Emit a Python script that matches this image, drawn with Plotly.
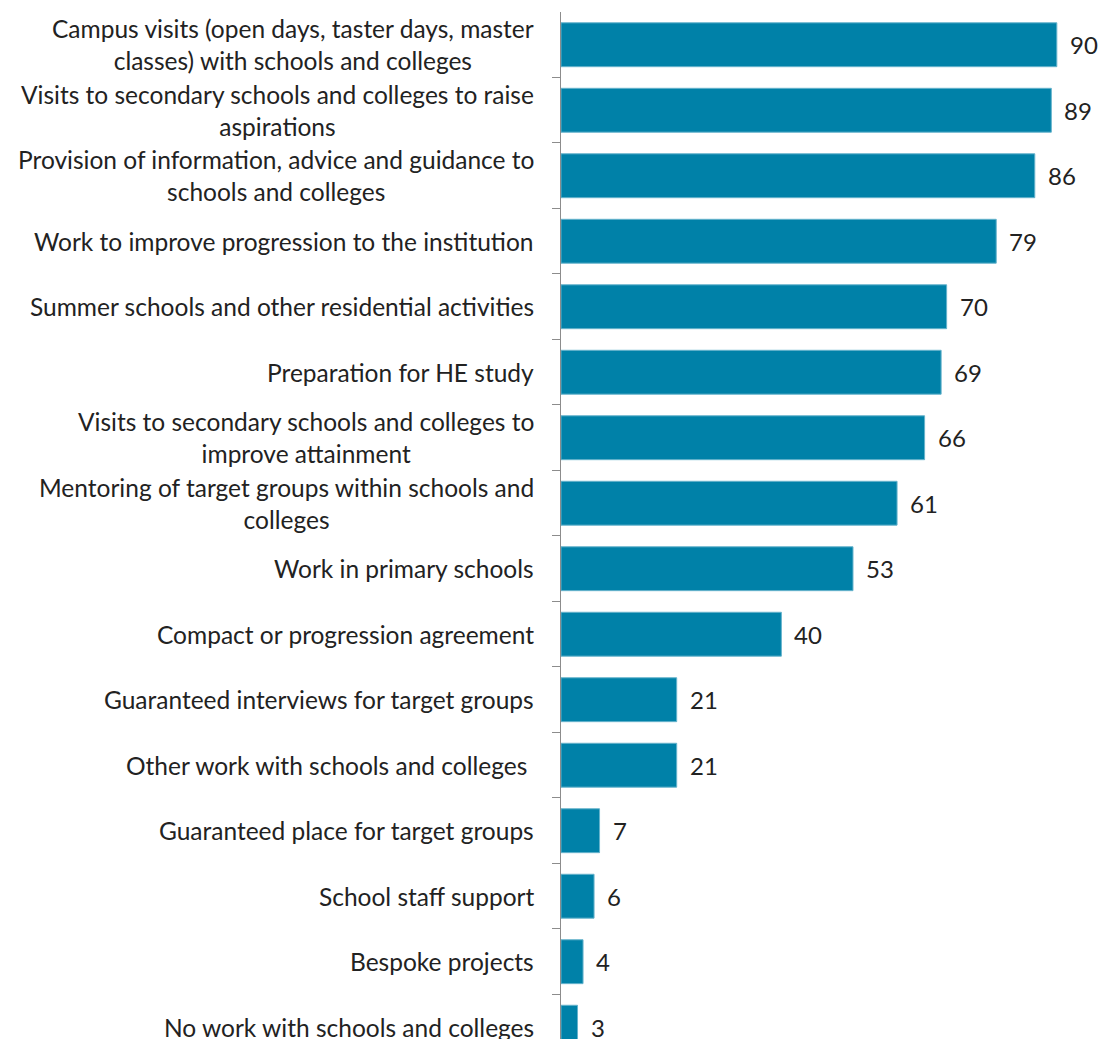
import plotly.graph_objects as go

categories = [
    "Campus visits (open days, taster days, master<br>classes) with schools and colleges",
    "Visits to secondary schools and colleges to raise<br>aspirations",
    "Provision of information, advice and guidance to<br>schools and colleges",
    "Work to improve progression to the institution",
    "Summer schools and other residential activities",
    "Preparation for HE study",
    "Visits to secondary schools and colleges to<br>improve attainment",
    "Mentoring of target groups within schools and<br>colleges",
    "Work in primary schools",
    "Compact or progression agreement",
    "Guaranteed interviews for target groups",
    "Other work with schools and colleges\u00a0",
    "Guaranteed place for target groups",
    "School staff support",
    "Bespoke projects",
    "No work with schools and colleges",
]
values = [90, 89, 86, 79, 70, 69, 66, 61, 53, 40, 21, 21, 7, 6, 4, 3]

FONT = "Lato"
TEXT_COLOR = "#222222"

fig = go.Figure(
    go.Bar(
        x=values,
        y=list(range(len(categories))),
        orientation="h",
        width=0.67,
        marker=dict(color="#0081A8", line=dict(color="#66B3CC", width=1)),
        hoverinfo="x",
    )
)

for i, (c, v) in enumerate(zip(categories, values)):
    fig.add_annotation(
        x=0, xref="x domain", y=i, yref="y",
        text=c, showarrow=False, xanchor="right", yanchor="middle",
        align="center", xshift=-25,
        font=dict(family=FONT, size=24.5, color=TEXT_COLOR),
    )
    fig.add_annotation(
        x=v, xref="x", y=i, yref="y",
        text=str(v), showarrow=False, xanchor="left", yanchor="middle",
        xshift=11,
        font=dict(family=FONT, size=24, color=TEXT_COLOR),
    )

fig.update_layout(
    width=1102, height=1039,
    margin=dict(l=561, r=0, t=12, b=0),
    paper_bgcolor="white", plot_bgcolor="white",
    showlegend=False,
    bargap=0.33,
)
fig.update_xaxes(range=[0, 98.2], visible=False, showgrid=False, zeroline=False)
fig.update_yaxes(
    range=[15.18, -0.5],
    showticklabels=False,
    tickmode="array", tickvals=[i + 0.5 for i in range(len(categories) - 1)],
    ticks="outside", ticklen=8, tickcolor="#8c8c8c", tickwidth=1,
    showline=True, linecolor="#8c8c8c", linewidth=1,
    showgrid=False, zeroline=False,
)

fig.write_html("out.html")
